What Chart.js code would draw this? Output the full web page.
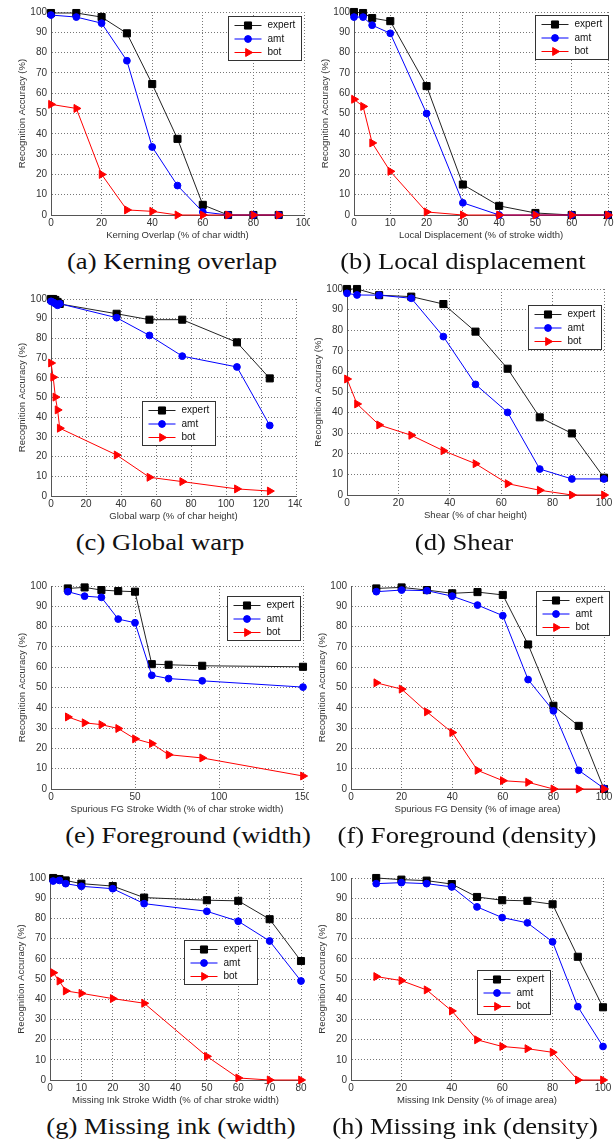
<!DOCTYPE html>
<html>
<head>
<meta charset="utf-8">
<script src="https://cdn.jsdelivr.net/npm/chart.js@4.4.1/dist/chart.umd.min.js"></script>
<style>
  body { margin: 0; background: #fff; }
  #page { position: relative; width: 616px; height: 1141px; overflow: hidden; background: #fff; }
  .panel { position: absolute; overflow: hidden; }
  .caption { position: absolute; white-space: nowrap; font-family: "Liberation Serif", "Times New Roman", serif; font-size: 23px; color: #111; }
</style>
</head>
<body>
<div id="page"></div>
<script>
// (a) kerning overlap
let kernX = [0, 10, 20, 30, 40, 50, 60, 70, 80, 90];
let kernExpert = [99.5, 99.5, 97.5, 89.5, 64.5, 37.5, 5, 0, 0, 0];
let kernAmt = [98.5, 97.5, 94.5, 76, 33.5, 14.5, 1.5, 0, 0, 0];
let kernBot = [54.5, 52.5, 20, 2.5, 1.8, 0, 0, 0, 0, 0];

// (b) local displacement
let dispX = [0, 2.5, 5, 10, 20, 30, 40, 50, 60, 70];
let dispExpert = [100, 99.5, 97, 95.5, 63.5, 15, 4.5, 1, 0, 0];
let dispAmt = [97.5, 97.5, 93.5, 89.5, 50, 6, 0, 0, 0, 0];
let dispBot = [57, 53.5, 35.5, 21.5, 1.5, 0, 0, 0, 0, 0];

// (c) global warp
let warpX = [0, 1.25, 2.5, 3.75, 5, 37.5, 56.25, 75, 106.25, 125];
let warpExpert = [100, 100, 99.5, 98.5, 97.5, 92.5, 89.5, 89.5, 78, 59.7];
let warpAmt = [98.8, 98.3, 97.6, 96.8, 97.6, 90.5, 81.5, 71, 65.5, 35.8];
let warpBot = [67.5, 60.3, 50.2, 43.7, 34.4, 20.8, 9.5, 7.3, 3.6, 2.5];

// (d) shear
let shearX = [0, 3.9, 12.5, 25, 37.5, 50, 62.5, 75, 87.5, 100];
let shearExpert = [100, 100, 97, 96.3, 92.7, 79.3, 61.3, 37.7, 29.9, 8.4];
let shearAmt = [97.9, 97.1, 97, 95.5, 76.9, 53.7, 40.1, 12.6, 7.8, 7.8];
let shearBot = [56.3, 44.2, 34, 29, 21.5, 15.2, 5.5, 2.3, 0, 0];

// (e) foreground width
let fgWidthX = [10, 20, 30, 40, 50, 60, 70, 90, 150];
let fgWidthExpert = [98.8, 99.3, 98, 97.5, 97.2, 61.5, 61.2, 60.7, 60.2];
let fgWidthAmt = [97.2, 95, 94.4, 83.7, 81.9, 56, 54.4, 53.3, 50.2];
let fgWidthBot = [35.5, 32.6, 31.7, 29.8, 24.7, 22.4, 16.9, 15.3, 6.4];

// (f) foreground density
let fgDensX = [10, 20, 30, 40, 50, 60, 70, 80, 90, 100];
let fgDensExpert = [98.8, 99.3, 98, 96.4, 97, 95.6, 71.2, 41, 31.1, 0];
let fgDensAmt = [97.2, 98, 97.7, 95, 90.6, 85.4, 53.9, 38.5, 9.2, 0.3];
let fgDensBot = [52.3, 49.2, 38, 27.8, 9.2, 4.1, 3.3, 0, 0, 0];

// (g) missing ink width
let inkWidthX = [1, 3, 5, 10, 20, 30, 50, 60, 70, 80];
let inkWidthExpert = [100, 99.5, 98.8, 97.2, 96, 90.3, 89, 88.7, 79.6, 58.9];
let inkWidthAmt = [98.5, 98.8, 97.2, 95.9, 94.7, 87.3, 83.5, 78.6, 68.8, 49];
let inkWidthBot = [53.1, 49, 44.1, 42.9, 40.3, 38, 11.7, 1, 0, 0];

// (h) missing ink density
let inkDensX = [10, 20, 30, 40, 50, 60, 70, 80, 90, 100];
let inkDensExpert = [100, 99.2, 98.7, 97, 90.6, 89, 88.7, 87, 61, 36];
let inkDensAmt = [97.2, 97.7, 97.2, 95.6, 85.7, 80.4, 77.8, 68.4, 36.3, 16.6];
let inkDensBot = [51.2, 49.2, 44.6, 34.2, 19.9, 16.6, 15.5, 13.7, 0, 0];

let seriesNames = ["expert", "amt", "bot"];
let yTitle = "Recognition Accuracy (%)";

// layout: plot box [left, top, right, bottom, clipRight], legend pos as fraction of plot area
let panels = [
  { x: kernX, s: [kernExpert, kernAmt, kernBot], xMax: 100, step: 20, xTitle: "Kerning Overlap (% of char width)",
    caption: "(a) Kerning overlap", box: [51, 12, 306, 215, 310], leg: [0.70, 0.02], cap: [172, 262] },
  { x: dispX, s: [dispExpert, dispAmt, dispBot], xMax: 70, step: 10, xTitle: "Local Displacement (% of stroke width)",
    caption: "(b) Local displacement", box: [354, 12, 608, 215, 616], leg: [0.713, 0.015], cap: [463, 262] },
  { x: warpX, s: [warpExpert, warpAmt, warpBot], xMax: 140, step: 20, xTitle: "Global warp (% of char height)",
    caption: "(c) Global warp", box: [51, 299, 296, 496, 302], leg: [0.371, 0.518], cap: [160, 543] },
  { x: shearX, s: [shearExpert, shearAmt, shearBot], xMax: 100, step: 20, xTitle: "Shear (% of char height)",
    caption: "(d) Shear", box: [347, 289, 604, 495, 616], leg: [0.704, 0.078], cap: [464, 543] },
  { x: fgWidthX, s: [fgWidthExpert, fgWidthAmt, fgWidthBot], xMax: 150, step: 50, xTitle: "Spurious FG Stroke Width (% of char stroke width)",
    caption: "(e) Foreground (width)", box: [51, 586, 303, 789, 309], leg: [0.70, 0.049], cap: [188, 836] },
  { x: fgDensX, s: [fgDensExpert, fgDensAmt, fgDensBot], xMax: 100, step: 20, xTitle: "Spurious FG Density (% of image area)",
    caption: "(f) Foreground (density)", box: [351, 586, 604, 789, 616], leg: [0.731, 0.025], cap: [467, 836] },
  { x: inkWidthX, s: [inkWidthExpert, inkWidthAmt, inkWidthBot], xMax: 80, step: 10, xTitle: "Missing Ink Stroke Width (% of char stroke width)",
    caption: "(g) Missing ink (width)", box: [50, 878, 304, 1080, 307], leg: [0.535, 0.307], cap: [171, 1127] },
  { x: inkDensX, s: [inkDensExpert, inkDensAmt, inkDensBot], xMax: 100, step: 20, xTitle: "Missing Ink Density (% of image area)",
    caption: "(h) Missing ink (density)", box: [351, 878, 603, 1080, 616], leg: [0.50, 0.455], cap: [465, 1127] },
];

let lineColors = ["#222", "#0000ff", "#ff0000"];
let markColors = ["#000", "#0000ff", "#ff0000"];
let markStyles = ["rect", "circle", "triangle"];
let markRadius = [5, 3.4, 4.6];
let markRotation = [0, 0, 90];

Chart.defaults.font.family = '"Liberation Sans", Arial, sans-serif';
Chart.defaults.animation = false;

// matlab-like legend box inside the axes
const boxLegend = {
  id: "boxLegend",
  afterDraw(chart, args, opts) {
    const { ctx, chartArea } = chart;
    let x = Math.round(chartArea.left + opts.x * chartArea.width) + 0.5;
    let y = Math.round(chartArea.top + opts.y * chartArea.height) + 0.5;
    ctx.save();
    ctx.font = '10px "Liberation Sans", Arial, sans-serif';
    let sets = chart.data.datasets;
    let tw = Math.max(...sets.map((d) => ctx.measureText(d.label).width));
    let w = Math.round(39 + tw + 6);
    let h = 44;
    ctx.fillStyle = "#fff";
    ctx.fillRect(x, y, w, h);
    ctx.strokeStyle = "#333";
    ctx.lineWidth = 1;
    ctx.strokeRect(x, y, w, h);
    sets.forEach((ds, i) => {
      let ry = y + 9 + i * 13.5;
      ctx.strokeStyle = ds.borderColor;
      ctx.beginPath();
      ctx.moveTo(x + 6, ry);
      ctx.lineTo(x + 33, ry);
      ctx.stroke();
      ctx.fillStyle = ds.pointBackgroundColor;
      ctx.strokeStyle = ds.pointBorderColor;
      Chart.helpers.drawPoint(ctx, { pointStyle: ds.pointStyle, radius: ds.pointRadius, rotation: ds.pointRotation, borderWidth: 1 }, x + 19.5, ry);
      ctx.fillStyle = "#111";
      ctx.textBaseline = "middle";
      ctx.fillText(ds.label, x + 39, ry);
    });
    ctx.restore();
  },
};

function axisOptions(min, max, step, title, isX) {
  return {
    type: "linear",
    min: min,
    max: max,
    ticks: { stepSize: step, padding: isX ? 2 : 4, color: "#333", font: { size: 10 } },
    grid: { color: "#777", lineWidth: 1, drawTicks: false },
    border: { color: "#555", width: 1, dash: [1, 2] },
    title: { display: true, text: title, color: "#333", font: { size: 9.5 }, padding: isX ? { top: 0, bottom: 4 } : { top: 11, bottom: 0 } },
    afterFit(scale) {
      if (isX) {
        scale.height = 30;
        scale.paddingLeft = 0;
        scale.paddingRight = 0;
      } else {
        scale.width = 45;
        scale.paddingTop = 0;
        scale.paddingBottom = 0;
      }
    },
  };
}

function makePanel(p) {
  let page = document.getElementById("page");
  let [pl, pt, pr, pb, clipR] = p.box;
  let left = pl - 45;
  let top = pt - 8;
  let width = clipR - left;
  let height = pb - pt + 38;
  let div = document.createElement("div");
  div.className = "panel";
  div.style.left = left + "px";
  div.style.top = top + "px";
  div.style.width = width + "px";
  div.style.height = height + "px";
  let canvas = document.createElement("canvas");
  canvas.width = width;
  canvas.height = height;
  div.appendChild(canvas);
  page.appendChild(div);

  let datasets = [];
  for (let k = 0; k < 3; k++) {
    datasets.push({
      label: seriesNames[k],
      data: p.x.map((v, i) => ({ x: v, y: p.s[k][i] })),
      showLine: true,
      borderColor: lineColors[k],
      borderWidth: 1,
      pointStyle: markStyles[k],
      pointRadius: markRadius[k],
      pointRotation: markRotation[k],
      pointBackgroundColor: markColors[k],
      pointBorderColor: markColors[k],
      pointBorderWidth: 1,
      tension: 0,
      clip: false,
      order: 3 - k,
    });
  }

  new Chart(canvas, {
    type: "scatter",
    data: { datasets: datasets },
    options: {
      responsive: false,
      layout: { padding: { top: 8, right: clipR - pr, left: 0, bottom: 0 } },
      plugins: { legend: { display: false }, tooltip: { enabled: false }, boxLegend: { x: p.leg[0], y: p.leg[1] } },
      scales: {
        x: axisOptions(0, p.xMax, p.step, p.xTitle, true),
        y: axisOptions(0, 100, 10, yTitle, false),
      },
    },
    plugins: [boxLegend],
  });
}

function makeCaption(p, scaleX) {
  let c = document.createElement("div");
  c.className = "caption";
  c.textContent = p.caption;
  c.style.left = p.cap[0] + "px";
  c.style.top = p.cap[1] + "px";
  c.style.transform = `translate(-50%, -50%) scaleX(${scaleX})`;
  document.getElementById("page").appendChild(c);
}

let measure = document.createElement("canvas").getContext("2d");
measure.font = '23px "Liberation Serif", "Times New Roman", serif';
let capScale = 210 / measure.measureText(panels[0].caption).width;

panels.forEach((p) => {
  makePanel(p);
  makeCaption(p, capScale);
});
</script>
</body>
</html>
